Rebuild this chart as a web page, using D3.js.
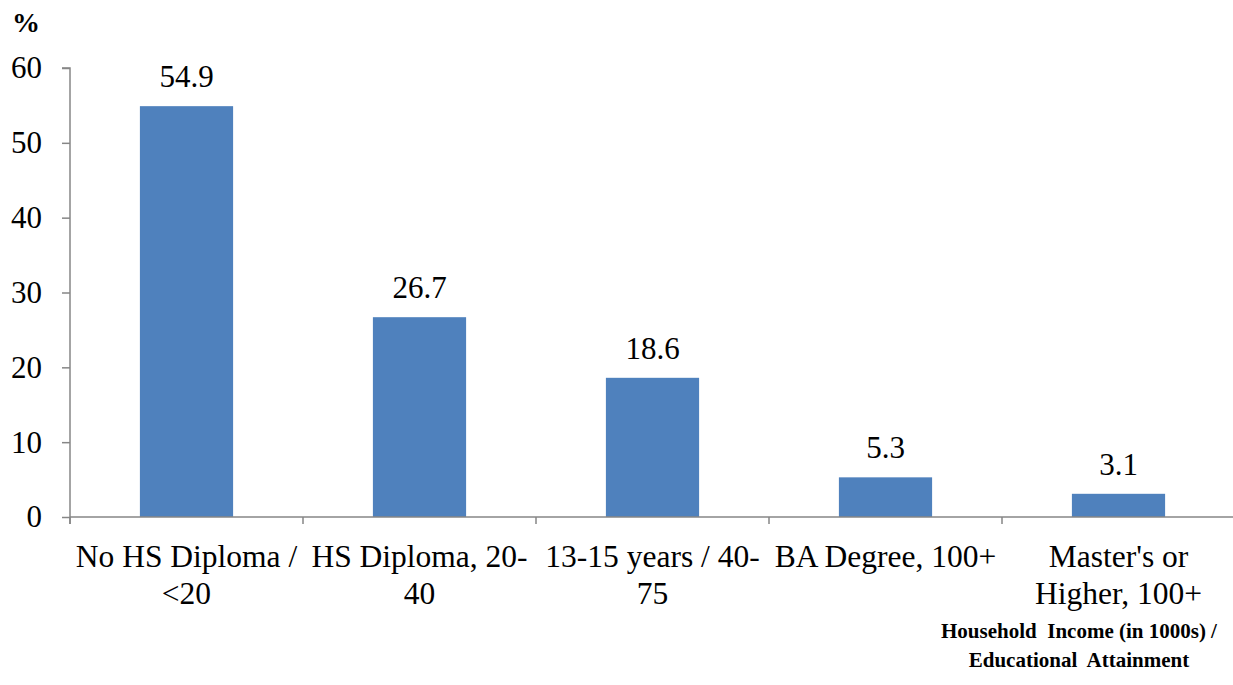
<!DOCTYPE html>
<html>
<head>
<meta charset="utf-8">
<script src="https://cdn.jsdelivr.net/npm/d3@7"></script>
<style>
  body { margin: 0; background: #fff; }
  svg text { font-family: "Liberation Serif", "Times New Roman", serif; }
</style>
</head>
<body>
<div id="chart"></div>
<script>
// chart data
const categories = ["No HS Diploma / <20", "HS Diploma, 20-40", "13-15 years / 40-75", "BA Degree, 100+", "Master's or Higher, 100+"];
const categoryLines = [["No HS Diploma /", "<20"], ["HS Diploma, 20-", "40"], ["13-15 years / 40-", "75"], ["BA Degree, 100+"], ["Master's or", "Higher, 100+"]];
const values = [54.9, 26.7, 18.6, 5.3, 3.1];
const yTicks = [0, 10, 20, 30, 40, 50, 60];
const xTitleLines = ["Household\u00a0 Income (in 1000s) /", "Educational\u00a0 Attainment"];

const width = 1233, height = 685;
const margin = { top: 68, right: -2, bottom: 168, left: 70 };

const svg = d3.select("#chart").append("svg")
    .attr("width", width)
    .attr("height", height);

const x = d3.scaleBand()
    .domain(categories)
    .range([margin.left, width - margin.right])
    .paddingInner(0.6)
    .paddingOuter(0.3);

const y = d3.scaleLinear()
    .domain([0, 60])
    .range([height - margin.bottom, margin.top]);

const axisColor = "#868686";

// bars
svg.selectAll("rect.bar")
    .data(values)
    .enter()
    .append("rect")
    .attr("class", "bar")
    .attr("x", (d, i) => x(categories[i]))
    .attr("y", d => y(d))
    .attr("width", x.bandwidth())
    .attr("height", d => y(0) - y(d))
    .attr("fill", "#4F81BD");

// value labels
svg.selectAll("text.val")
    .data(values)
    .enter()
    .append("text")
    .attr("class", "val")
    .attr("x", (d, i) => x(categories[i]) + x.bandwidth() / 2)
    .attr("y", d => y(d) - 19)
    .attr("text-anchor", "middle")
    .attr("font-size", "31px")
    .attr("fill", "#000")
    .text(d => d.toFixed(1));

// y axis
const yAxis = svg.append("g")
    .attr("transform", `translate(${margin.left},0)`)
    .call(d3.axisLeft(y).tickValues(yTicks).tickSize(8).tickPadding(20));
yAxis.select(".domain").attr("stroke", axisColor).attr("stroke-width", 1.5)
    .attr("d", `M-8,${y(60)}H0V${y(0) + 7}`);
yAxis.selectAll(".tick line").attr("stroke", axisColor).attr("stroke-width", 1.5);
yAxis.selectAll(".tick text")
    .attr("font-size", "31px")
    .attr("fill", "#000");

// x axis line and boundary ticks
const step = x.step();
const boundaries = d3.range(categories.length + 1).map(i => margin.left + i * step);
svg.append("line")
    .attr("x1", margin.left).attr("x2", d3.max(boundaries))
    .attr("y1", y(0)).attr("y2", y(0))
    .attr("stroke", axisColor).attr("stroke-width", 1.5);
svg.selectAll("line.xtick")
    .data(boundaries)
    .enter()
    .append("line")
    .attr("class", "xtick")
    .attr("x1", d => d).attr("x2", d => d)
    .attr("y1", y(0)).attr("y2", y(0) + 7)
    .attr("stroke", axisColor).attr("stroke-width", 1.5);

// category labels
const catLabels = svg.selectAll("text.cat")
    .data(categories)
    .enter()
    .append("text")
    .attr("class", "cat")
    .attr("text-anchor", "middle")
    .attr("font-size", "31.5px")
    .attr("fill", "#000");
catLabels.each(function (d, i) {
    const cx = x(d) + x.bandwidth() / 2;
    d3.select(this).selectAll("tspan")
        .data(categoryLines[i])
        .enter()
        .append("tspan")
        .attr("x", cx)
        .attr("y", (l, j) => y(0) + 50 + j * 37)
        .text(l => l);
});

// y unit label
svg.append("text")
    .attr("x", 12)
    .attr("y", 32)
    .attr("font-size", "28px")
    .attr("font-weight", "bold")
    .text("%");

// x axis title
svg.append("text")
    .attr("text-anchor", "middle")
    .attr("font-size", "21px")
    .attr("font-weight", "bold")
    .selectAll("tspan")
    .data(xTitleLines)
    .enter()
    .append("tspan")
    .attr("x", 1079)
    .attr("y", (d, i) => 638 + i * 29)
    .text(d => d);
</script>
</body>
</html>
